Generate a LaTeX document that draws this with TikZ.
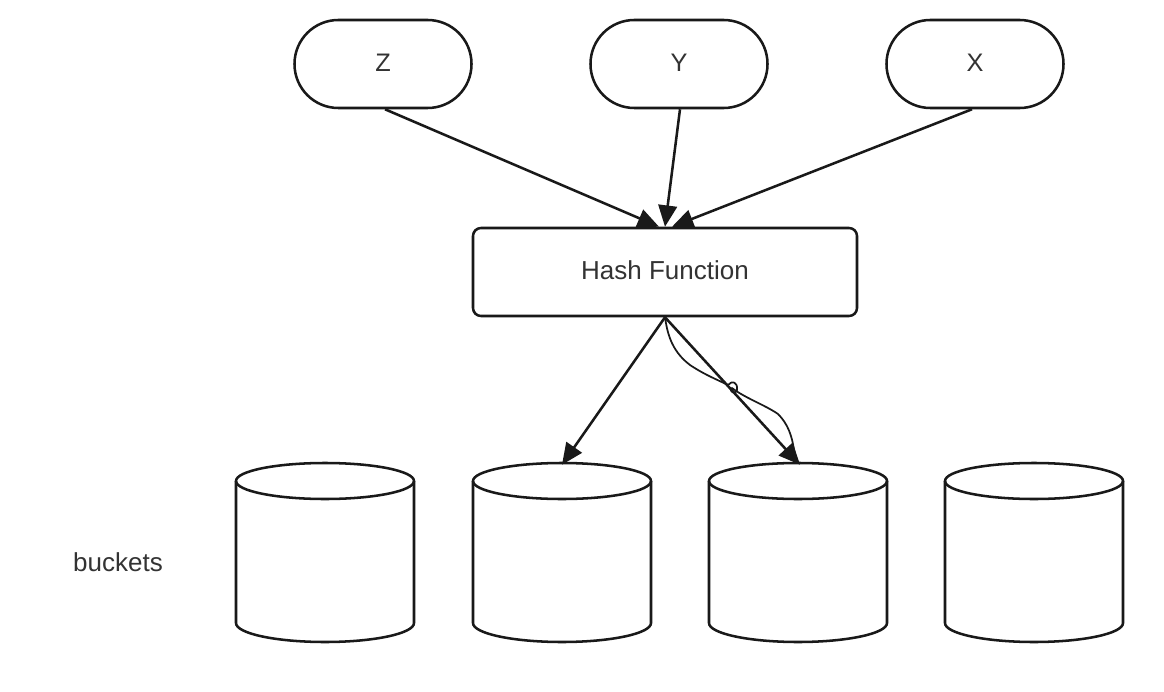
\documentclass[tikz,border=0pt]{standalone}
\usepackage{fontspec}
\setmainfont{Liberation Sans}
\usetikzlibrary{arrows.meta}
\begin{document}
\begin{tikzpicture}[x=0.75pt,y=0.75pt,
  line/.style={line width=1.9pt, draw=black!90},
  pill/.style={line, draw, rounded corners=32.9pt, minimum width=132.75pt, minimum height=66pt, inner sep=0pt, font=\fontsize{19}{22}\selectfont, text=black!80},
  hashbox/.style={line, draw, rounded corners=6pt, minimum width=288pt, minimum height=66pt, inner sep=0pt, font=\fontsize{19.5}{22}\selectfont, text=black!80},
  bucketarea/.style={minimum width=133.5pt, minimum height=135pt, inner sep=0pt},
  cyl/.style={line width=1.9pt, draw=black!90},
  arr/.style={line, -{Triangle[length=16pt,width=14pt]}},
  lbl/.style={font=\fontsize{19.5}{22}\selectfont, text=black!80}]
\useasboundingbox (0,0) rectangle (1164,-692);
\fill[white] (0,0) rectangle (1164,-692);
% inputs
\node[pill] (Z) at (383,-64) {\raisebox{2pt}{Z}};
\node[pill] (Y) at (679,-64) {\raisebox{2pt}{Y}};
\node[pill] (X) at (975,-64) {\raisebox{2pt}{X}};
% hash function
\node[hashbox] (H) at (665,-272) {\raisebox{3pt}{Hash Function}};
% buckets
\foreach \i/\cx in {1/325,2/562,3/798,4/1034}{
  \node[bucketarea] (b\i) at (\cx,-553) {};
  \draw[cyl] (\cx,-481) ellipse [x radius=89, y radius=18];
  \draw[cyl] (\cx-89,-481) -- (\cx-89,-623) arc[start angle=180, end angle=360, x radius=89, y radius=19] -- (\cx+89,-481);
}
\node[lbl] (lb) at (118,-562) {buckets};
% connectors
\coordinate (hz) at ([xshift=-6*0.75pt]H.north);
\coordinate (hy) at (H.north);
\coordinate (hx) at ([xshift=7*0.75pt]H.north);
\draw[arr] ([xshift=2*0.75pt]Z.south) -- (hz);
\draw[arr] ([xshift=1*0.75pt]Y.south) -- (hy);
\draw[arr] ([xshift=-3*0.75pt]X.south) -- (hx);
\draw[arr] (H.south) -- ([yshift=-2*0.75pt]b2.north);
\draw[arr] (H.south) -- ([xshift=2*0.75pt,yshift=-2*0.75pt]b3.north);
% freehand scribble
\draw[line width=1.3pt, draw=black!90, line cap=round, line join=round]
  (H.south) .. controls (667,-330) and (670,-350) .. (690,-365)
  .. controls (705,-375) and (718,-380) .. (728,-385)
  .. controls (732,-380) and (738,-382) .. (737,-390)
  .. controls (736,-395) and (728,-392) .. (732,-388)
  .. controls (745,-398) and (765,-405) .. (778,-414)
  .. controls (788,-424) and (792,-436) .. (794,-450);
\end{tikzpicture}
\end{document}
